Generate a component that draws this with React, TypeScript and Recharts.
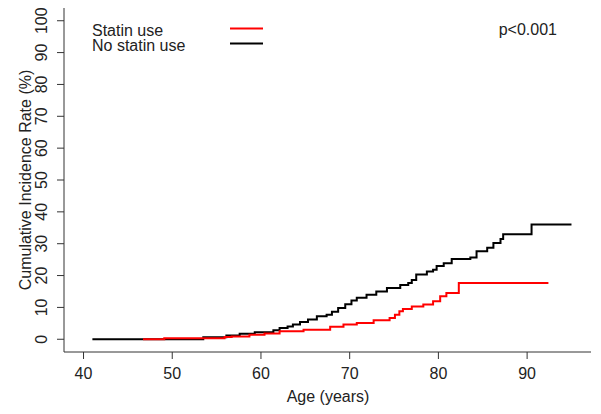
import React from "react";
import { LineChart, Line, XAxis, YAxis, Customized } from "recharts";

const noStatinAges = [41, 53.5, 56.1, 57.6, 59.3, 61.4, 62.1, 63.0, 63.6, 64.4, 65.3, 66.3, 67.4, 68.0, 68.7, 69.5, 70.2, 70.8, 71.9, 73.0, 74.2, 75.7, 76.6, 77.0, 77.5, 78.7, 79.4, 79.8, 80.6, 81.5, 83.6, 84.3, 85.5, 86.2, 87.0, 87.3, 90.5, 95];
const noStatinRates = [0, 0.6, 1.2, 1.7, 2.2, 2.8, 3.5, 4.0, 4.6, 5.4, 6.2, 7.2, 7.7, 8.6, 9.8, 11.0, 12.2, 13.0, 14.0, 15.0, 16.1, 17.0, 17.7, 18.6, 20.3, 21.3, 21.8, 23.0, 23.9, 25.2, 25.7, 27.6, 28.7, 30.2, 31.5, 33.0, 36.0, 36.0];
const statinAges = [46.7, 49.1, 55.9, 56.7, 58.7, 60.4, 62.1, 64.8, 67.8, 69.3, 70.8, 72.7, 74.5, 75.1, 75.6, 76.0, 77.0, 78.3, 79.4, 80.2, 80.9, 82.3, 92.4];
const statinRates = [0, 0.3, 0.7, 0.9, 1.4, 1.8, 2.5, 3.0, 3.9, 4.6, 5.1, 6.0, 6.7, 7.7, 8.8, 9.5, 10.3, 10.9, 11.9, 13.5, 14.5, 17.7, 17.7];
const xTicks = [40, 50, 60, 70, 80, 90];
const yTicks = [0, 10, 20, 30, 40, 50, 60, 70, 80, 90, 100];
const seriesNames = ["Statin use", "No statin use"];
const pValueText = "p<0.001";
const xTitle = "Age (years)";
const yTitle = "Cumulative Incidence Rate (%)";

const noStatinData = noStatinAges.map((a, i) => ({ age: a, rate: noStatinRates[i] }));
const statinData = statinAges.map((a, i) => ({ age: a, rate: statinRates[i] }));

const FONT = "'Liberation Sans', Arial, Helvetica, sans-serif";
const TXT = "#222";
const AX = "#333";

const YTick = (props: any) => {
  const { x, y, payload } = props;
  return (
    <text
      x={x}
      y={y}
      transform={`rotate(-90 ${x} ${y})`}
      textAnchor="middle"
      fontSize={16}
      fontFamily={FONT}
      fill={TXT}
    >
      {payload.value}
    </text>
  );
};

const Overlay = () => (
  <g fontFamily={FONT} fontSize={16} fill={TXT}>
    <text x={92} y={36}>{seriesNames[0]}</text>
    <text x={92} y={51}>{seriesNames[1]}</text>
    <line x1={230} x2={263} y1={28.5} y2={28.5} stroke="#ff0000" strokeWidth={2} />
    <line x1={230} x2={263} y1={43.5} y2={43.5} stroke="#000" strokeWidth={2} />
    <text x={557} y={35} textAnchor="end">{pValueText}</text>
    <text x={328} y={402} textAnchor="middle">{xTitle}</text>
    <text x={31} y={180} textAnchor="middle" transform="rotate(-90 31 180)">{yTitle}</text>
  </g>
);

export default function App() {
  return (
    <div style={{ position: "absolute", left: 0, top: 0, background: "#fff" }}>
      <LineChart width={601} height={414} margin={{ top: 8, right: 10, left: 0, bottom: 0 }}>
        <XAxis
          dataKey="age"
          type="number"
          domain={[37.8, 97.2]}
          allowDataOverflow
          ticks={xTicks}
          tickSize={7}
          tickMargin={9}
          height={62}
          stroke={AX}
          tick={{ fontSize: 16, fontFamily: FONT, fill: TXT }}
        />
        <XAxis xAxisId="top" orientation="top" type="number" domain={[0, 1]} height={0} tick={false} tickLine={false} stroke={AX} />
        <YAxis
          type="number"
          domain={[-4, 104]}
          allowDataOverflow
          ticks={yTicks}
          tickSize={7}
          tickMargin={10}
          width={64}
          stroke={AX}
          tick={<YTick />}
        />
        <YAxis yAxisId="right" orientation="right" type="number" domain={[0, 1]} width={0} tick={false} tickLine={false} stroke={AX} />
        <Line
          data={noStatinData}
          dataKey="rate"
          type="stepAfter"
          stroke="#000"
          strokeWidth={2}
          dot={false}
          isAnimationActive={false}
        />
        <Line
          data={statinData}
          dataKey="rate"
          type="stepAfter"
          stroke="#ff0000"
          strokeWidth={2}
          dot={false}
          isAnimationActive={false}
        />
        <Customized component={Overlay} />
      </LineChart>
    </div>
  );
}
